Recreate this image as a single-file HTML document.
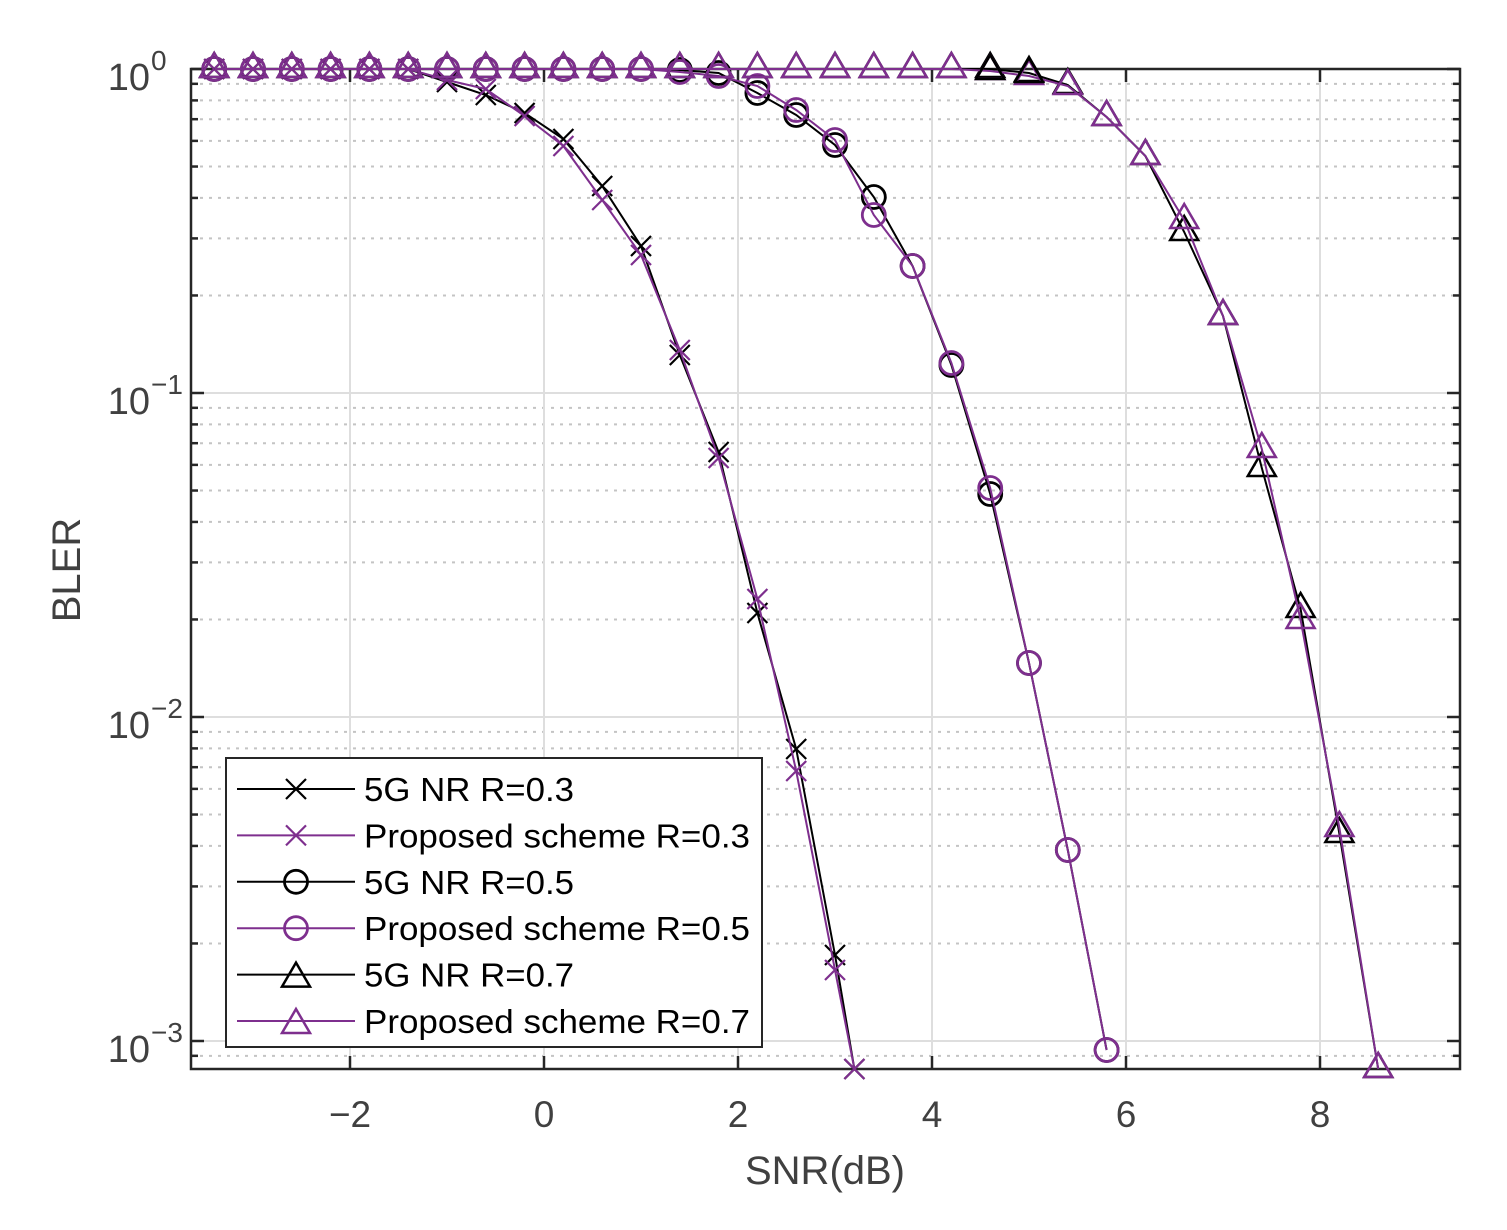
<!DOCTYPE html>
<html><head><meta charset="utf-8"><style>body{margin:0;background:#fff}svg{display:block}</style></head>
<body>
<svg id="s" width="1507" height="1230" xmlns="http://www.w3.org/2000/svg" font-family="Liberation Sans, sans-serif"></svg>
<script>
const X=v=>544+97*v, Y=b=>69-324*Math.log10(b);
const L=191,R=1460,T=69,B=1069;
let h='<rect width="1507" height="1230" fill="#fff"/>';
for(let d=-4;d<=-1;d++)for(let m=2;m<=9;m++){const y=Y(m*Math.pow(10,d));if(y>T&&y<B)h+=`<line x1="${L}" x2="${R}" y1="${y}" y2="${y}" stroke="#c4c4c4" stroke-width="2" stroke-dasharray="3,6"/>`;}
[-2,0,2,4,6,8].forEach(v=>h+=`<line x1="${X(v)}" x2="${X(v)}" y1="${T}" y2="${B}" stroke="#dedede" stroke-width="2"/>`);
[1e-1,1e-2,1e-3].forEach(v=>h+=`<line x1="${L}" x2="${R}" y1="${Y(v)}" y2="${Y(v)}" stroke="#dedede" stroke-width="2"/>`);
h+=`<rect x="${L}" y="${T}" width="${R-L}" height="${B-T}" fill="none" stroke="#262626" stroke-width="2.5"/>`;
[-2,0,2,4,6,8].forEach(v=>{h+=`<line x1="${X(v)}" x2="${X(v)}" y1="${B}" y2="${B-13}" stroke="#262626" stroke-width="2.5"/><line x1="${X(v)}" x2="${X(v)}" y1="${T}" y2="${T+13}" stroke="#262626" stroke-width="2.5"/>`;
h+=`<text x="${X(v)}" y="1127" font-size="37" fill="#404040" text-anchor="middle">${v<0?'\u2212'+(-v):v}</text>`;});
for(let d=-4;d<=0;d++)for(let m=1;m<=9;m++){const y=Y(m*Math.pow(10,d));if(y>=T-0.5&&y<=B){const l=m==1?13:7;h+=`<line x1="${L}" x2="${L+l}" y1="${y}" y2="${y}" stroke="#262626" stroke-width="2.5"/><line x1="${R}" x2="${R-l}" y1="${y}" y2="${y}" stroke="#262626" stroke-width="2.5"/>`;}}
[0,-1,-2,-3].forEach(e=>{const y=Y(Math.pow(10,e));h+=`<text x="150" y="${y+21}" font-size="38" fill="#404040" text-anchor="end">10</text><text x="151" y="${y+1}" font-size="28" fill="#404040">${e==0?'0':'\u2212'+(-e)}</text>`;});
h+=`<text x="825" y="1184" font-size="40" fill="#404040" text-anchor="middle">SNR(dB)</text>`;
h+=`<text transform="translate(80,570) rotate(-90)" font-size="40" fill="#404040" text-anchor="middle">BLER</text>`;
const P='#7e2f8e',K='#000';
function mk(t,x,y,c){
 if(t=='x')return `<path d="M${x-10},${y-10}L${x+10},${y+10}M${x-10},${y+10}L${x+10},${y-10}" stroke="${c}" stroke-width="2.2" fill="none"/>`;
 if(t=='o')return `<circle cx="${x}" cy="${y}" r="11.5" stroke="${c}" stroke-width="2.8" fill="none"/>`;
 return `<path d="M${x},${y-16}L${x+14},${y+8}L${x-14},${y+8}Z" stroke="${c}" stroke-width="2.5" fill="none"/>`;
}
function ser(t,c,xs,ys){
 const pts=xs.map((v,i)=>[X(v),ys[i]]);
 let s=`<polyline points="${pts.map(p=>p.join(',')).join(' ')}" fill="none" stroke="${c}" stroke-width="2"/>`;
 pts.forEach(p=>{s+=mk(t,p[0],p[1],c)});
 return s;
}
const xs=(a,b)=>{let r=[];for(let v=a;v<=b+1e-9;v+=0.4)r.push(+v.toFixed(1));return r;};
h+=ser('x',K,xs(-3.4,3.0).concat([3.2]),[69,69,69,69,69,69,82,95,113,139,186,246,355,452,613,749,955,1069]);
h+=ser('x',P,xs(-3.4,3.0).concat([3.2]),[69,69,69,69,69,69,80,89,116,146,200,255,350,458,599,771,970,1069]);
h+=ser('o',K,xs(-3.4,5.8),[69,69,69,69,69,69,69,69,69,69,69,69,70,73,93,115,145,197,266,365,494,663,850,1050]);
h+=ser('o',P,xs(-3.4,5.8),[69,69,69,69,69,69,69,69,69,69,69,69,72,76,86,110,140,215,266,363,488,663,850,1050]);
h+=ser('t',K,xs(-3.4,8.6),[69,69,69,69,69,69,69,69,69,69,69,69,69,69,69,69,69,69,69,69,69,73,85,117,156,232,316,468,609,834,1069]);
h+=ser('t',P,xs(-3.4,8.6),[69,69,69,69,69,69,69,69,69,69,69,69,69,69,69,69,69,69,69,69,71,76,86,117,156,220,316,449,620,828,1069]);
h+=mk('t',X(4.6),71,K)+mk('t',X(5.0),74,K);
h+=`<rect x="226" y="758" width="536" height="289" fill="#fff" stroke="#262626" stroke-width="2"/>`;
const lg=[['x',K,'5G NR R=0.3',210],['x',P,'Proposed scheme R=0.3',386],['o',K,'5G NR R=0.5',210],['o',P,'Proposed scheme R=0.5',386],['t',K,'5G NR R=0.7',210],['t',P,'Proposed scheme R=0.7',386]];
lg.forEach((g,i)=>{const y=789+i*46.4;h+=`<line x1="237" x2="355" y1="${y}" y2="${y}" stroke="${g[1]}" stroke-width="2"/>`+mk(g[0],296,g[0]=='t'?y+4:y,g[1])+`<text x="364" y="${y+12}" font-size="33" fill="#000" textLength="${g[3]}" lengthAdjust="spacingAndGlyphs">${g[2]}</text>`;});
document.getElementById('s').innerHTML=h;
</script>
</body></html>
